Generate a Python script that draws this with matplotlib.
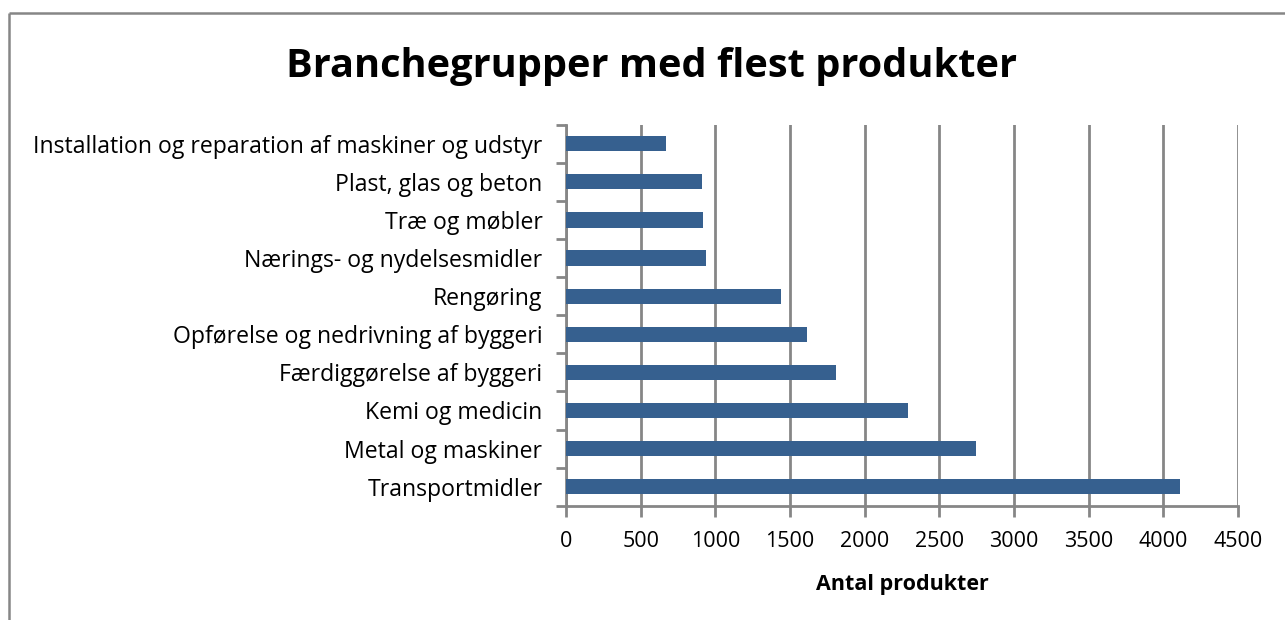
import matplotlib
matplotlib.use("Agg")
import matplotlib.pyplot as plt
import numpy as np

categories = [
    "Transportmidler",
    "Metal og maskiner",
    "Kemi og medicin",
    "Færdiggørelse af byggeri",
    "Opførelse og nedrivning af byggeri",
    "Rengøring",
    "Nærings- og nydelsesmidler",
    "Træ og møbler",
    "Plast, glas og beton",
    "Installation og reparation af maskiner og udstyr",
]
values = [4114, 2748, 2292, 1808, 1614, 1437, 935, 917, 909, 667]
xticks = [0, 500, 1000, 1500, 2000, 2500, 3000, 3500, 4000, 4500]

plt.rcParams['font.family'] = ['Open Sans', 'DejaVu Sans']
gray = '#868686'

fig = plt.figure(figsize=(12.85, 6.2), dpi=100)
ax = fig.add_axes([566 / 1285, 1 - 505.7 / 620, (1238 - 566) / 1285, (505.7 - 124.7) / 620])

pos = np.arange(len(categories))
ax.barh(pos, values, height=0.4, color='#36608f', zorder=3)

ax.set_xlim(0, 4500)
ax.set_ylim(-0.5, len(categories) - 0.5)
ax.set_xticks(xticks)
ax.set_xticklabels([str(t) for t in xticks], fontsize=15.5)
ax.set_yticks(pos)
ax.set_yticklabels(categories, fontsize=16.6)
ax.set_yticks(np.arange(-0.5, len(categories)), minor=True)
ax.tick_params(axis='y', which='major', length=0, pad=17)
ax.tick_params(axis='y', which='minor', length=7, width=2, color=gray)
ax.tick_params(axis='x', which='major', length=8, width=2, color=gray, pad=10)
ax.grid(axis='x', color=gray, linewidth=2, zorder=0)

for s in ['top', 'right']:
    ax.spines[s].set_visible(False)
for s in ['left', 'bottom']:
    ax.spines[s].set_color(gray)
    ax.spines[s].set_linewidth(2)

ax.set_xlabel("Antal produkter", fontsize=15.5, fontweight='bold', labelpad=16)

fig.text(652 / 1285, 1 - 66 / 620, "Branchegrupper med flest produkter",
         fontsize=28.6, fontweight='bold', ha='center', va='center')

# outer chart frame: only the left and top edges fall inside the picture
fig.add_artist(plt.Line2D([9 / 1285, 9 / 1285], [-0.02, 1 - 13 / 620],
                          transform=fig.transFigure, color=gray, linewidth=1.8,
                          solid_capstyle='butt'))
fig.add_artist(plt.Line2D([9 / 1285, 1.02], [1 - 13 / 620, 1 - 13 / 620],
                          transform=fig.transFigure, color=gray, linewidth=1.8,
                          solid_capstyle='butt'))

fig.savefig("out.png", dpi=100)
